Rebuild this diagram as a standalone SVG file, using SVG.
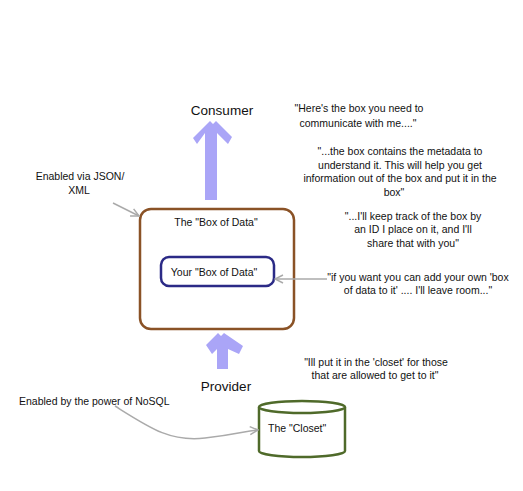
<svg xmlns="http://www.w3.org/2000/svg" width="523" height="491" viewBox="0 0 523 491">
<defs>
<style>
text{font-family:"Liberation Sans",Arial,sans-serif;fill:#111;font-size:10.5px}
.c{text-anchor:middle}
.big{font-size:13.5px}
.conn{fill:none;stroke:#aaaaaa;stroke-width:1.5}
.flow{fill:#aaa5f7;stroke:none}
</style>
<marker id="open" viewBox="0 0 10 10" refX="9" refY="5" markerWidth="10" markerHeight="10" markerUnits="userSpaceOnUse" orient="auto">
<path d="M1,1 L9,5 L1,9" fill="none" stroke="#aaaaaa" stroke-width="1.5"/>
</marker>
</defs>
<rect width="523" height="491" fill="#ffffff"/>

<g id="flow-arrows">
<polygon class="flow" points="210,121 213,124 216,121 232,137 228,144 217,133 217,200 205,200 205,133 197,144 193,138"/>
<polygon class="flow" points="218,333 221,336 224,333 243,346 239,354 228,349 228,369 217,369 217,349 212,354 206,345"/>
</g>

<g id="consumer">
<text class="c big" x="222" y="115">Consumer</text>
</g>
<g id="provider">
<text class="c big" x="226" y="391">Provider</text>
</g>

<g id="box-of-data">
<rect x="140" y="209" width="154" height="120" rx="11" fill="#ffffff" stroke="#8a5226" stroke-width="2.5"/>
<text class="c" x="216" y="226">The "Box of Data"</text>
</g>
<g id="your-box">
<rect x="161" y="257" width="113" height="29" rx="8" fill="#ffffff" stroke="#2b2a86" stroke-width="2.5"/>
<text class="c" x="214" y="276">Your "Box of Data"</text>
</g>

<g id="closet">
<path d="M259,407 L259,451 A43,6 0 0 0 345,451 L345,407" fill="#ffffff" stroke="#4f6a2a" stroke-width="2.5"/>
<ellipse cx="302" cy="407" rx="43" ry="6" fill="#ffffff" stroke="#4f6a2a" stroke-width="2.5"/>
<text x="268" y="432">The "Closet"</text>
</g>

<g id="labels">
<text class="c" x="80" y="180">Enabled via JSON/</text>
<text class="c" x="79" y="194">XML</text>
<text class="c" x="359" y="112">"Here's the box you need to</text>
<text class="c" x="358" y="127">communicate with me...."</text>
<text class="c" x="400" y="155">"...the box contains the metadata to</text>
<text class="c" x="400" y="169">understand it. This will help you get</text>
<text class="c" x="400" y="182">information out of the box and put it in the</text>
<text class="c" x="394" y="196">box"</text>
<text class="c" x="413" y="220">"...I'll keep track of the box by</text>
<text class="c" x="413" y="233">an ID I place on it, and I'll</text>
<text class="c" x="413" y="247">share that with you"</text>
<text class="c" x="418" y="281">"if you want you can add your own 'box</text>
<text class="c" x="418" y="294">of data to it' .... I'll leave room..."</text>
<text class="c" x="376" y="366">"Ill put it in the 'closet' for those</text>
<text class="c" x="375" y="379">that are allowed to get to it"</text>
<text x="19" y="405">Enabled by the power of NoSQL</text>
</g>

<g id="connectors">
<path class="conn" d="M113,203 L139,216" marker-end="url(#open)"/>
<path class="conn" d="M327,279 L275,279" marker-end="url(#open)"/>
<path class="conn" d="M115,406 C150,428 170,442 205,438 S245,431 258,430" marker-end="url(#open)"/>
</g>
</svg>
